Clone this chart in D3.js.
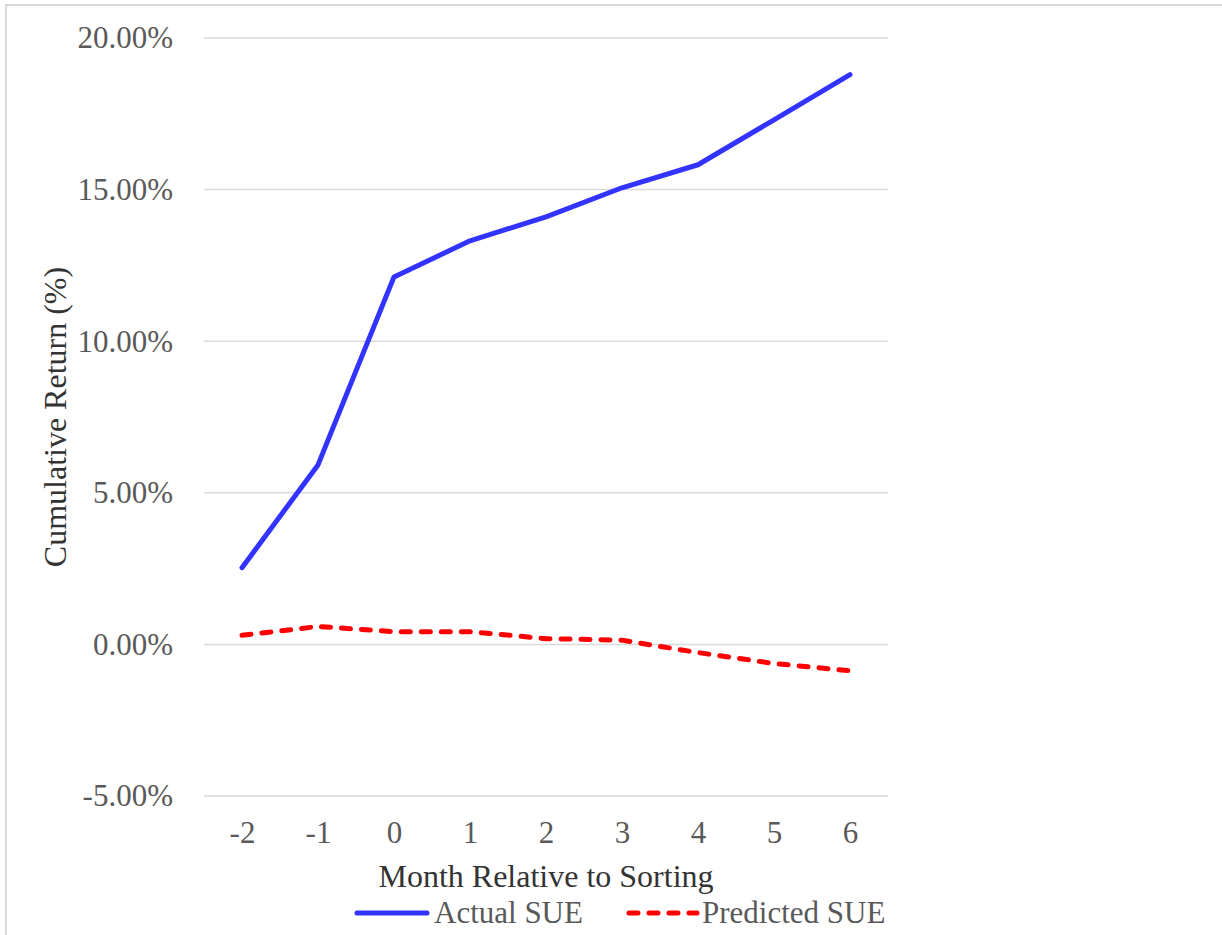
<!DOCTYPE html>
<html>
<head>
<meta charset="utf-8">
<script src="https://cdn.jsdelivr.net/npm/d3@7/dist/d3.min.js"></script>
<style>
  html, body { margin: 0; padding: 0; background: #fff; }
  svg { display: block; }
  text { font-family: "Liberation Serif", "Times New Roman", serif; }
</style>
</head>
<body>
<svg id="chart" width="1222" height="935"></svg>
<script>
// Months relative to the sorting month
const months = [-2, -1, 0, 1, 2, 3, 4, 5, 6];
// Cumulative returns (%)
const actualSUE = [2.53, 5.92, 12.12, 13.31, 14.10, 15.06, 15.82, 17.30, 18.79];
const predictedSUE = [0.30, 0.59, 0.42, 0.42, 0.19, 0.14, -0.27, -0.63, -0.87];
// Y axis ticks (%)
const yTicks = [-5, 0, 5, 10, 15, 20];

const seriesNames = ["Actual SUE", "Predicted SUE"];

const svg = d3.select("#chart");
const W = 1222, H = 935;
const plot = { left: 204, right: 888, top: 38, bottom: 796 };

// Chart frame
svg.append("rect")
  .attr("x", 6).attr("y", 5)
  .attr("width", W + 20).attr("height", H + 20)
  .attr("fill", "#fff")
  .attr("stroke", "#d9d9d9")
  .attr("stroke-width", 2);

const x = d3.scalePoint()
  .domain(months)
  .range([plot.left, plot.right])
  .padding(0.5);

const y = d3.scaleLinear()
  .domain([-5, 20])
  .range([plot.bottom, plot.top]);

// Horizontal gridlines
svg.append("g")
  .selectAll("line")
  .data(yTicks)
  .join("line")
  .attr("x1", plot.left).attr("x2", plot.right)
  .attr("y1", d => y(d)).attr("y2", d => y(d))
  .attr("stroke", "#d9d9d9")
  .attr("stroke-width", 1.5);

// Y axis tick labels
const yAxis = d3.axisLeft(y)
  .tickValues(yTicks)
  .tickSize(0)
  .tickPadding(0)
  .tickFormat(d => d.toFixed(2) + "%");
const gy = svg.append("g")
  .attr("transform", `translate(173,0)`)
  .call(yAxis);
gy.select(".domain").remove();
gy.selectAll("text")
  .attr("font-family", "'Liberation Serif', 'Times New Roman', serif")
  .attr("font-size", 31)
  .attr("fill", "#595959")
  .attr("dy", "0.32em");

// X axis tick labels
const xAxis = d3.axisBottom(x)
  .tickSize(0)
  .tickPadding(0)
  .tickFormat(d => String(d));
const gx = svg.append("g")
  .attr("transform", `translate(0,${plot.bottom})`)
  .call(xAxis);
gx.select(".domain").remove();
gx.selectAll("text")
  .attr("font-family", "'Liberation Serif', 'Times New Roman', serif")
  .attr("font-size", 31)
  .attr("fill", "#595959")
  .attr("y", 47)
  .attr("dy", 0);

// Axis titles
svg.append("text")
  .attr("x", (plot.left + plot.right) / 2)
  .attr("y", 887)
  .attr("text-anchor", "middle")
  .attr("font-size", 32)
  .attr("fill", "#333333")
  .text("Month Relative to Sorting");

svg.append("text")
  .attr("transform", `translate(66,${(plot.top + plot.bottom) / 2}) rotate(-90)`)
  .attr("text-anchor", "middle")
  .attr("font-size", 32)
  .attr("fill", "#333333")
  .text("Cumulative Return (%)");

// Series lines
const line = d3.line()
  .x((d, i) => x(months[i]))
  .y(d => y(d));

svg.append("path")
  .datum(actualSUE)
  .attr("d", line)
  .attr("fill", "none")
  .attr("stroke", "#3333ff")
  .attr("stroke-width", 5)
  .attr("stroke-linecap", "round")
  .attr("stroke-linejoin", "round");

svg.append("path")
  .datum(predictedSUE)
  .attr("d", line)
  .attr("fill", "none")
  .attr("stroke", "#ff0000")
  .attr("stroke-width", 5)
  .attr("stroke-linecap", "round")
  .attr("stroke-linejoin", "round")
  .attr("stroke-dasharray", "9 11");

// Legend
const legendY = 913;
const legend = svg.append("g");
const items = [
  { name: seriesNames[0], color: "#3333ff", dash: null, x0: 357, x1: 427, tx: 434 },
  { name: seriesNames[1], color: "#ff0000", dash: "9 11", x0: 629, x1: 697, tx: 702 }
];
items.forEach(it => {
  legend.append("line")
    .attr("x1", it.x0).attr("x2", it.x1)
    .attr("y1", legendY).attr("y2", legendY)
    .attr("stroke", it.color)
    .attr("stroke-width", 5)
    .attr("stroke-linecap", "round")
    .attr("stroke-dasharray", it.dash);
  legend.append("text")
    .attr("x", it.tx)
    .attr("y", 923)
    .attr("font-size", 31)
    .attr("fill", "#595959")
    .text(it.name);
});
</script>
</body>
</html>
